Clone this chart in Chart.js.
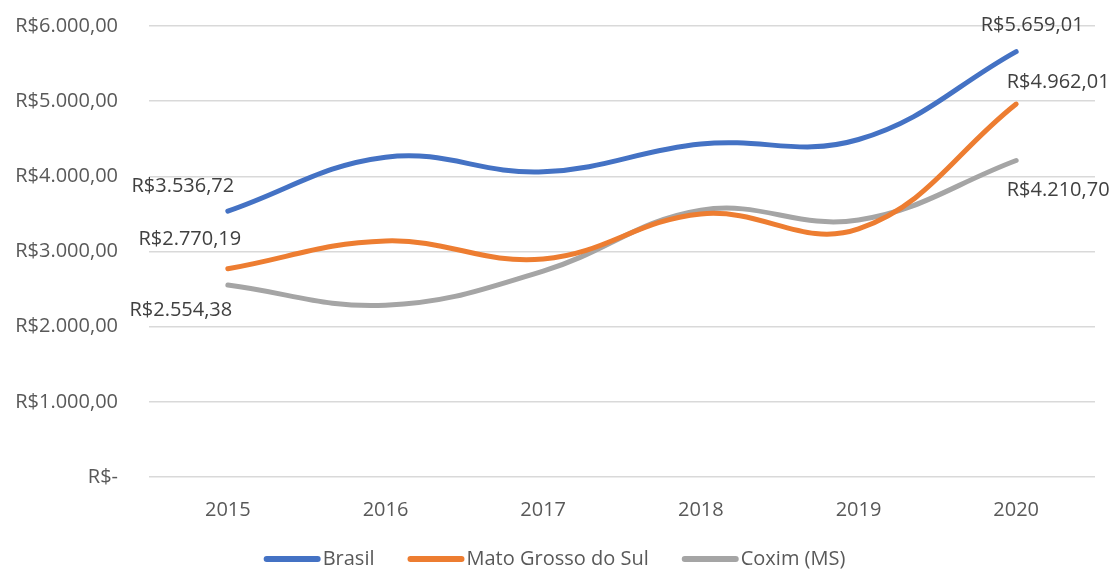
<!DOCTYPE html>
<html>
<head>
<meta charset="utf-8">
<script src="https://cdn.jsdelivr.net/npm/chart.js@4.4.1/dist/chart.umd.min.js"></script>
<style>
  body { margin: 0; background: #fff; }
  #wrap { width: 1115px; height: 569px; }
</style>
</head>
<body>
<div id="wrap"><canvas id="chart"></canvas></div>
<script>
// Data
const years = ["2015", "2016", "2017", "2018", "2019", "2020"]
const brasil = [3536.72, 4255, 4060, 4430, 4490, 5659.01]
const matoGrossoDoSul = [2770.19, 3140, 2900, 3500, 3300, 4962.01]
const coxim = [2554.38, 2285, 2740, 3550, 3420, 4210.70]
const yTicks = [0, 1000, 2000, 3000, 4000, 5000, 6000]

const FONT = "'Open Sans', sans-serif"

// Format number pt-BR style (e.g. 3.536,72)
function formatBRL(value) {
  if (value === 0) return "R$-"
  const fixed = value.toFixed(2)
  let [intPart, decPart] = fixed.split(".")
  intPart = intPart.replace(/\B(?=(\d{3})+(?!\d))/g, ".")
  return `R$${intPart},${decPart}`
}

// Labels for first and last point of each line
const endLabels = {
  id: "endLabels",
  afterDatasetsDraw(chart) {
    const ctx = chart.ctx
    const offsets = [
      [[-45, -25], [16, -26]],
      [[-38, -29], [42, -22]],
      [[-47, 25], [42, 30]],
    ]
    ctx.save()
    ctx.font = `20px ${FONT}`
    ctx.fillStyle = "#404040"
    ctx.textAlign = "center"
    ctx.textBaseline = "middle"
    chart.data.datasets.forEach((ds, i) => {
      const meta = chart.getDatasetMeta(i)
      const first = meta.data[0]
      const last = meta.data[meta.data.length - 1]
      ctx.fillText(formatBRL(ds.data[0]), first.x + offsets[i][0][0], first.y + offsets[i][0][1])
      ctx.fillText(formatBRL(ds.data[ds.data.length - 1]), last.x + offsets[i][1][0], last.y + offsets[i][1][1])
    })
    ctx.restore()
  },
}

// Legend drawn at the bottom, Excel style
const bottomLegend = {
  id: "bottomLegend",
  afterDraw(chart) {
    const ctx = chart.ctx
    const lineLen = 57
    const gapText = 2
    const gapItem = 33
    const y = 559
    ctx.save()
    ctx.font = `20px ${FONT}`
    const widths = chart.data.datasets.map((ds) => lineLen + gapText + ctx.measureText(ds.label).width)
    const total = widths.reduce((a, b) => a + b, 0) + gapItem * (widths.length - 1)
    let x = (chart.width - total) / 2 - 3
    chart.data.datasets.forEach((ds, i) => {
      ctx.strokeStyle = ds.borderColor
      ctx.lineWidth = 6
      ctx.lineCap = "round"
      ctx.beginPath()
      ctx.moveTo(x + 3, y)
      ctx.lineTo(x + lineLen - 3, y)
      ctx.stroke()
      ctx.fillStyle = "#595959"
      ctx.textAlign = "left"
      ctx.textBaseline = "middle"
      ctx.fillText(ds.label, x + lineLen + gapText, y)
      x += widths[i] + gapItem
    })
    ctx.restore()
  },
}

function lineDataset(label, data, color) {
  return {
    label: label,
    data: data,
    borderColor: color,
    backgroundColor: color,
    borderWidth: 5,
    borderCapStyle: "round",
    pointRadius: 0,
    tension: 0.4,
    fill: false,
  }
}

const ctx = document.getElementById("chart").getContext("2d")
new Chart(ctx, {
  type: "line",
  data: {
    labels: years,
    datasets: [
      lineDataset("Brasil", brasil, "#4472C4"),
      lineDataset("Mato Grosso do Sul", matoGrossoDoSul, "#ED7D31"),
      lineDataset("Coxim (MS)", coxim, "#A5A5A5"),
    ],
  },
  options: {
    responsive: true,
    maintainAspectRatio: false,
    animation: false,
    layout: { padding: { top: 26, right: 20, bottom: 0, left: 0 } },
    scales: {
      x: {
        offset: true,
        grid: { display: false, drawTicks: false },
        border: { display: false },
        ticks: { color: "#595959", font: { family: FONT, size: 20 }, padding: 21 },
        afterFit: (scale) => {
          scale.height = 92
          scale.paddingLeft = 0
          scale.paddingRight = 0
        },
      },
      y: {
        min: 0,
        max: 6000,
        afterBuildTicks: (scale) => { scale.ticks = yTicks.map((v) => ({ value: v })) },
        grid: { color: "#d9d9d9", lineWidth: 1.5, drawTicks: false },
        border: { display: false },
        ticks: {
          color: "#595959",
          font: { family: FONT, size: 20 },
          padding: 31,
          callback: (v) => formatBRL(v),
        },
        afterFit: (scale) => {
          scale.width = 149
          scale.paddingTop = 0
          scale.paddingBottom = 0
        },
      },
    },
    plugins: {
      legend: { display: false },
      tooltip: { enabled: false },
    },
  },
  plugins: [endLabels, bottomLegend],
})
</script>
</body>
</html>
